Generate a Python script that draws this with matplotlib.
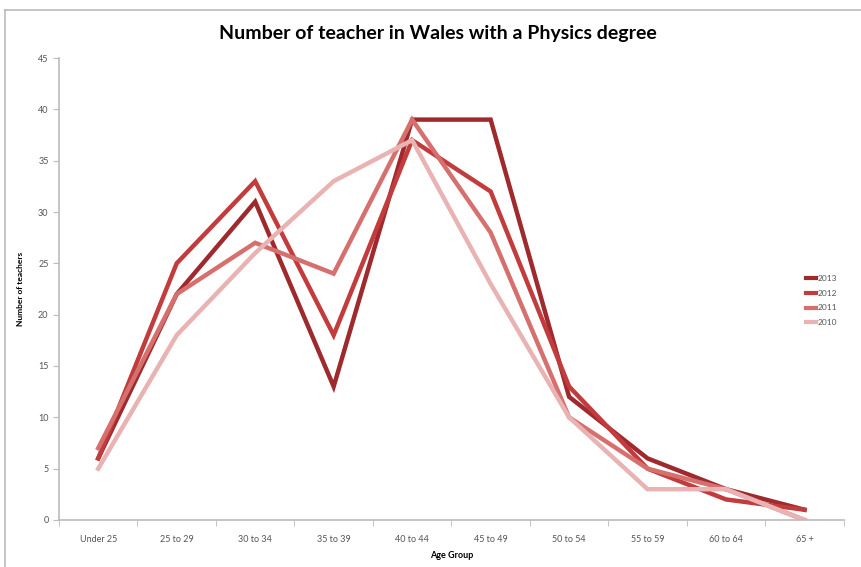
import matplotlib
matplotlib.use("Agg")
import matplotlib.pyplot as plt
from matplotlib.lines import Line2D

plt.rcParams['font.family'] = ['Lato', 'DejaVu Sans']

age_groups = ["Under 25", "25 to 29", "30 to 34", "35 to 39", "40 to 44",
              "45 to 49", "50 to 54", "55 to 59", "60 to 64", "65 +"]
years = ["2013", "2012", "2011", "2010"]
v2013 = [6, 22, 31, 13, 39, 39, 12, 6, 3, 1]
v2012 = [6, 25, 33, 18, 37, 32, 13, 5, 2, 1]
v2011 = [7, 22, 27, 24, 39, 28, 10, 5, 3, 0]
v2010 = [5, 18, 26, 33, 37, 23, 10, 3, 3, 0]
series = [v2013, v2012, v2011, v2010]
colors = ["#9e2a2d", "#c23b3d", "#d6706f", "#e8b3b2"]

fig = plt.figure(figsize=(8.61, 5.67), dpi=100)
ax = fig.add_axes([0.0685, 0.0829, 0.9115, 0.8148])

x = list(range(len(age_groups)))
for vals, c, yr in zip(series, colors, years):
    ax.plot(x, vals, color=c, lw=3.2, label=yr, solid_joinstyle='miter')

ax.set_xlim(-0.5, len(age_groups) - 0.5)
ax.set_ylim(0, 45)
ax.set_yticks(range(0, 46, 5))
ax.set_xticks(x)
ax.set_xticklabels(age_groups)
ax.set_xticks([i - 0.5 for i in range(len(age_groups) + 1)], minor=True)
ax.tick_params(axis='x', which='major', length=0, labelsize=6.5, colors='#555555', pad=11)
ax.tick_params(axis='x', which='minor', length=4, color='#bbbbbb')
ax.tick_params(axis='y', length=4, color='#bbbbbb', labelsize=6.5, labelcolor='#555555')
for s in ['top', 'right']:
    ax.spines[s].set_visible(False)
for s in ['left', 'bottom']:
    ax.spines[s].set_color('#bbbbbb')
    ax.spines[s].set_linewidth(1.2)

ax.set_xlabel("Age Group", fontsize=6.5, fontweight='bold', labelpad=5)
ax.set_ylabel("Number of teachers", fontsize=6, fontweight='bold', labelpad=10)

fig.text(0.508, 0.941, "Number of teacher in Wales with a Physics degree",
         ha='center', va='center', fontsize=14, fontweight='bold')

handles = [Line2D([0], [0], color=c, lw=3) for c in colors]
fig.legend(handles, years, loc='center left', bbox_to_anchor=(0.927, 0.47),
           frameon=False, fontsize=6, handlelength=1.3, handletextpad=0.1,
           labelspacing=0.95, labelcolor='#555555')

# outer chart frame
fig.add_artist(Line2D([0.006, 0.006], [0, 0.983], color='#bbbbbb', lw=1.2))
fig.add_artist(Line2D([0.006, 1], [0.983, 0.983], color='#bbbbbb', lw=1.2))

fig.savefig("out.png", dpi=100)
